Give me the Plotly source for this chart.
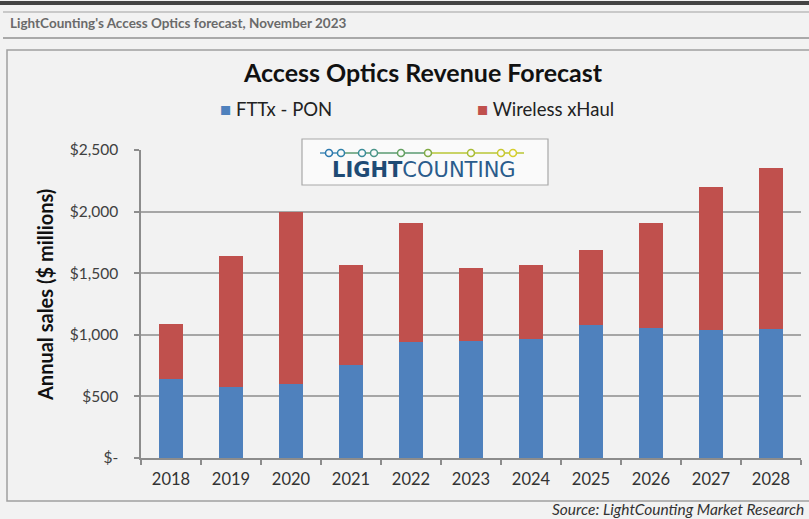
import plotly.graph_objects as go

# Access optics revenue, $ millions
years = ["2018", "2019", "2020", "2021", "2022", "2023", "2024", "2025", "2026", "2027", "2028"]
fttx_pon = [645, 578, 602, 753, 944, 946, 970, 1081, 1054, 1035, 1048]
wireless_xhaul = [444, 1065, 1398, 815, 964, 600, 598, 608, 851, 1162, 1309]
y_ticks = [0, 500, 1000, 1500, 2000, 2500]
y_tick_text = ["$-", "$500", "$1,000", "$1,500", "$2,000", "$2,500"]

BLUE = "#4F81BD"
RED = "#C0504D"
BG = "#F2F2F2"
FONT = "Lato, 'Open Sans', Arial, sans-serif"

W, H = 809, 519
L, R, T, B = 141, 8, 150, 61
PW, PH = W - L - R, H - T - B


def px(x):
    return (x - L) / PW


def py(y):
    return (H - B - y) / PH


fig = go.Figure()
fig.add_trace(go.Bar(x=years, y=fttx_pon, name="FTTx - PON", marker_color=BLUE,
                     marker_line_width=0))
fig.add_trace(go.Bar(x=years, y=wireless_xhaul, name="Wireless xHaul", marker_color=RED,
                     marker_line_width=0))

shapes = []
annotations = []

# page chrome: top rule, header rules, chart frame
shapes.append(dict(type="line", xref="paper", yref="paper", x0=px(0), x1=px(W), y0=py(3), y1=py(3),
                   line=dict(color="#444444", width=4), layer="below"))
shapes.append(dict(type="line", xref="paper", yref="paper", x0=px(3), x1=px(W), y0=py(12), y1=py(12),
                   line=dict(color="#BBBBBB", width=1.5), layer="below"))
shapes.append(dict(type="line", xref="paper", yref="paper", x0=px(3), x1=px(W), y0=py(38), y1=py(38),
                   line=dict(color="#909090", width=1.5), layer="below"))
shapes.append(dict(type="rect", xref="paper", yref="paper", x0=px(7), x1=px(W + 5), y0=py(50), y1=py(501),
                   line=dict(color="#A0A0A0", width=1.5), fillcolor="rgba(0,0,0,0)", layer="below"))

annotations.append(dict(text="<b>LightCounting's Access Optics forecast, November 2023</b>",
                        xref="paper", yref="paper", x=px(8), y=py(23), xanchor="left", yanchor="middle",
                        showarrow=False,
                        font=dict(family=FONT, size=13.5, color="#6A6A6A")))

# chart title
annotations.append(dict(text="<b>Access Optics Revenue Forecast</b>", xref="paper", yref="paper",
                        x=px(423), y=py(72), xanchor="center", yanchor="middle", showarrow=False,
                        font=dict(family=FONT, size=25, color="#111111")))

# legend
annotations.append(dict(text=f"<span style='color:{BLUE}'>■</span> FTTx - PON", xref="paper", yref="paper",
                        x=px(218), y=py(109), xanchor="left", yanchor="middle", showarrow=False,
                        font=dict(family=FONT, size=18.5, color="#222222")))
annotations.append(dict(text=f"<span style='color:{RED}'>■</span> Wireless xHaul", xref="paper", yref="paper",
                        x=px(475), y=py(109), xanchor="left", yanchor="middle", showarrow=False,
                        font=dict(family=FONT, size=18.5, color="#222222")))

# logo badge
shapes.append(dict(type="rect", xref="paper", yref="paper", x0=px(302), x1=px(548), y0=py(139), y1=py(185),
                   line=dict(color="#A8A8A8", width=1.2), fillcolor="#FAFAFA", layer="above"))
shapes.append(dict(type="line", xref="paper", yref="paper", x0=px(320), x1=px(345), y0=py(153), y1=py(153),
                   line=dict(color="#2F7DAF", width=1.3), layer="above"))
shapes.append(dict(type="line", xref="paper", yref="paper", x0=px(345), x1=px(430), y0=py(153), y1=py(153),
                   line=dict(color="#5A9A70", width=1.3), layer="above"))
shapes.append(dict(type="line", xref="paper", yref="paper", x0=px(430), x1=px(524), y0=py(153), y1=py(153),
                   line=dict(color="#B8C634", width=1.3), layer="above"))
dots = [(329, "#2C78AE"), (341, "#2E80A8"), (362, "#3A8C98"), (374, "#4A9488"), (401, "#64A060"),
        (428, "#80AA44"), (471, "#A8BC36"), (501, "#C8C830"), (513, "#D6CE2C")]
for cx, col in dots:
    shapes.append(dict(type="circle", xref="paper", yref="paper", x0=px(cx - 3.5), x1=px(cx + 3.5),
                       y0=py(149.5), y1=py(156.5), line=dict(color=col, width=1.5), fillcolor="#FAFAFA",
                       layer="above"))
annotations.append(dict(text="<span style='color:#1E4A74'><b>LIGHT</b></span>COUNTING",
                        xref="paper", yref="paper", x=px(424), y=py(170),
                        xanchor="center", yanchor="middle", showarrow=False,
                        font=dict(family="'DejaVu Sans', Arial", size=21, color="#2A5C8C")))

# source line
annotations.append(dict(text="<i>Source: LightCounting Market Research</i>", xref="paper", yref="paper",
                        x=px(806), y=py(509), xanchor="right", yanchor="middle", showarrow=False,
                        font=dict(family=FONT, size=15.5, color="#333333")))

# y-axis title
annotations.append(dict(text="<b>Annual sales ($ millions)</b>", xref="paper", yref="paper",
                        x=px(45), y=py(295), xanchor="center", yanchor="middle", textangle=-90,
                        showarrow=False, font=dict(family=FONT, size=20, color="#111111")))

fig.update_layout(
    width=W, height=H,
    margin=dict(l=L, r=R, t=T, b=B, pad=0),
    paper_bgcolor=BG, plot_bgcolor=BG,
    barmode="stack", bargap=0.6,
    showlegend=False,
    shapes=shapes, annotations=annotations,
    font=dict(family=FONT, size=15, color="#404040"),
)
fig.update_xaxes(
    type="category", showgrid=False, showline=True, linecolor="#8C8C8C", linewidth=1.5,
    ticks="outside", tickson="boundaries", ticklen=5, tickcolor="#8C8C8C", tickwidth=1.5,
    tickfont=dict(family=FONT, size=16.5, color="#333333"), ticklabelstandoff=5,
)
fig.update_yaxes(
    range=[0, 2500], tickvals=y_ticks, ticktext=y_tick_text,
    showgrid=True, gridcolor="#A6A6A6", gridwidth=1.5, zeroline=False,
    showline=True, linecolor="#8C8C8C", linewidth=1.5,
    ticks="outside", ticklen=5, tickcolor="#8C8C8C", tickwidth=1.5,
    tickfont=dict(family=FONT, size=15.5, color="#404040"), ticklabelstandoff=13,
)

fig.write_html("out.html")
